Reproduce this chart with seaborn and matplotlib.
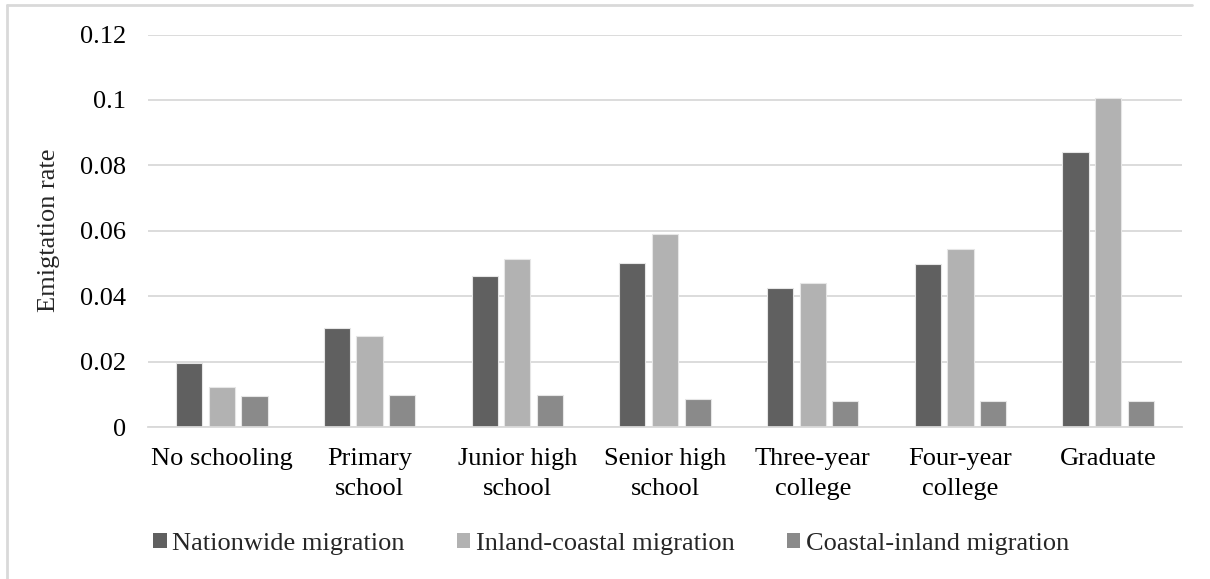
import numpy as np
import pandas as pd
import matplotlib
matplotlib.use("Agg")
import matplotlib.pyplot as plt
import seaborn as sns
from matplotlib.lines import Line2D
from matplotlib.patches import Patch

# Education levels (x categories) and their axis labels
categories = ["No schooling", "Primary school", "Junior high school", "Senior high school",
              "Three-year college", "Four-year college", "Graduate"]
category_labels = ["No schooling", "Primary\nschool", "Junior high\nschool", "Senior high\nschool",
                   "Three-year\ncollege", "Four-year\ncollege", "Graduate"]

# Emigration rate per series
series_names = ["Nationwide migration", "Inland-coastal migration", "Coastal-inland migration"]
nationwide = [0.0195, 0.0303, 0.0462, 0.0501, 0.0426, 0.0498, 0.0840]
inland_coastal = [0.0123, 0.0278, 0.0514, 0.0589, 0.0439, 0.0543, 0.1006]
coastal_inland = [0.0095, 0.0098, 0.0099, 0.0087, 0.0079, 0.0081, 0.0080]

y_ticks = [0, 0.02, 0.04, 0.06, 0.08, 0.10, 0.12]
y_tick_labels = ["0", "0.02", "0.04", "0.06", "0.08", "0.1", "0.12"]

colors = ["#606060", "#b2b2b2", "#8a8a8a"]

df = pd.DataFrame({
    "level": categories * 3,
    "series": np.repeat(series_names, len(categories)),
    "rate": nationwide + inland_coastal + coastal_inland,
})

sns.set_theme(style="white")
plt.rcParams["font.family"] = ["Liberation Serif", "DejaVu Serif"]
plt.rcParams["font.size"] = 19

fig = plt.figure(figsize=(12.1, 5.79), dpi=100)
ax = fig.add_axes([148 / 1210, 1 - 427 / 579, (1182 - 148) / 1210, (427 - 34.5) / 579])

sns.barplot(data=df, x="level", y="rate", hue="series", order=categories,
            hue_order=series_names, palette=colors, width=0.664, gap=0.2,
            edgecolor="#e6e6e6", linewidth=0.8, ax=ax, legend=False, zorder=3)

ax.set_ylim(0, 0.12)
ax.set_xlim(-0.5, len(categories) - 0.5)
ax.set_yticks(y_ticks)
ax.set_yticklabels(y_tick_labels, fontsize=19, color="#000000")
ax.set_xticks(range(len(categories)))
ax.set_xticklabels(category_labels, fontsize=19, color="#000000", linespacing=1.5)
ax.tick_params(axis="both", length=0)
ax.tick_params(axis="y", pad=16)
ax.tick_params(axis="x", pad=15)

ax.yaxis.grid(True, color="#d9d9d9", linewidth=1.3, zorder=0)
ax.set_axisbelow(True)
for side in ["top", "right", "left"]:
    ax.spines[side].set_visible(False)
ax.spines["bottom"].set_color("#d9d9d9")
ax.spines["bottom"].set_linewidth(1.3)
ax.spines["bottom"].set_zorder(4)

ax.set_xlabel("")
ax.set_ylabel("Emigtation rate", fontsize=19, labelpad=14)

handles = [Patch(facecolor=c, edgecolor="none") for c in colors]
fig.legend(handles, series_names, loc="center", bbox_to_anchor=(0.505, 1 - 544 / 579),
           ncol=3, frameon=False, fontsize=19, handlelength=0.5, handleheight=0.5,
           handletextpad=0.2, columnspacing=2.0)

# Light chart-area frame along the top and left edges
fig.add_artist(Line2D([7 / 1210, 7 / 1210], [0, 1 - 5 / 579], transform=fig.transFigure,
                      color="#d9d9d9", linewidth=2))
fig.add_artist(Line2D([7 / 1210, 1192 / 1210], [1 - 5 / 579, 1 - 5 / 579], transform=fig.transFigure,
                      color="#d9d9d9", linewidth=2))

fig.savefig("out.png", dpi=100, facecolor="white")
